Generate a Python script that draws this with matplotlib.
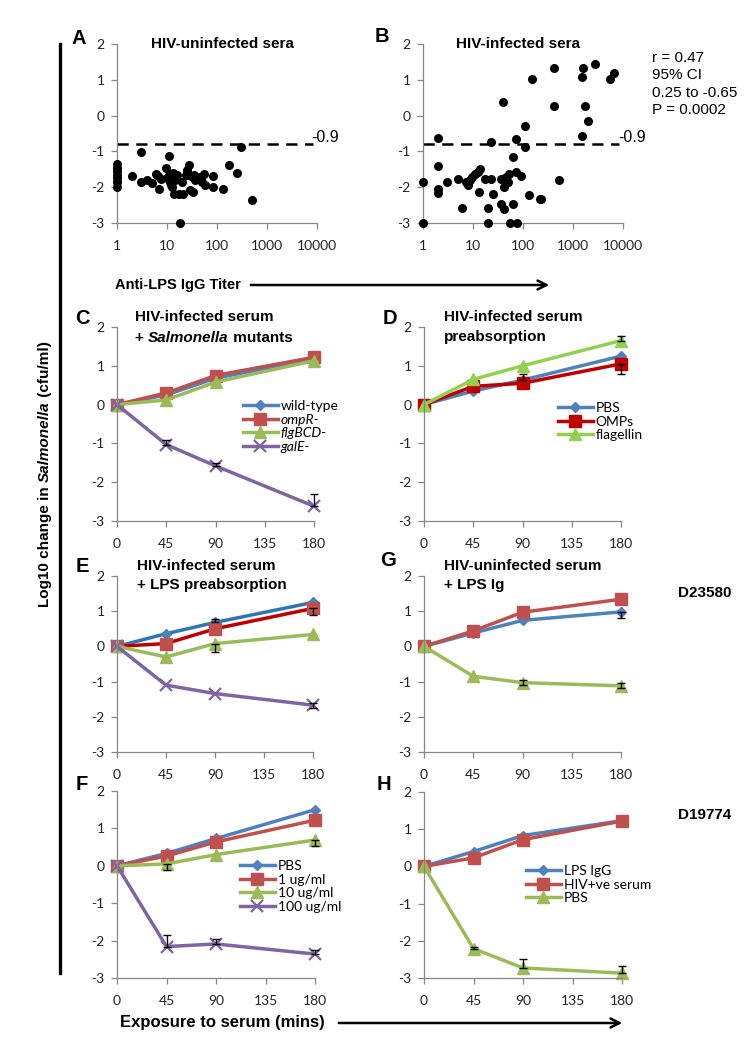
import matplotlib
matplotlib.use("Agg")
import matplotlib.pyplot as plt
from matplotlib.lines import Line2D

W, H = 756, 1048

# ---- data -------------------------------------------------------------
TIME = [0, 45, 90, 180]
TIME_TICKS = [0, 45, 90, 135, 180]
TITER_TICKS = [1, 10, 100, 1000, 10000]
Y_TICKS = [-3, -2, -1, 0, 1, 2]
CUTOFF = -0.8

# A: HIV-uninfected sera
A_titer = [1, 1, 1, 1, 1, 1, 1, 2, 3, 3, 4, 5, 6, 6.5, 7, 7.6, 9.7, 10,
           10.9, 11, 11.7, 12, 12.6, 13, 13.6, 14.7, 15, 15.8, 17, 18, 20,
           21, 24, 25, 27, 29, 30, 33, 35, 37, 40, 43, 47, 50, 56, 58, 82,
           82, 130, 170, 250, 300, 500]
A_change = [-1.35, -1.45, -1.55, -1.65, -1.75, -1.85, -2.0, -1.68, -1.02,
            -1.85, -1.8, -1.88, -1.64, -1.7, -2.04, -1.78, -1.45, -1.75,
            -1.12, -1.66, -1.85, -1.95, -2.0, -1.6, -2.2, -1.8, -1.7, -1.66,
            -2.18, -3.0, -1.85, -2.18, -1.66, -1.52, -1.38, -2.08, -1.7,
            -2.13, -1.66, -1.8, -1.75, -1.71, -1.8, -1.85, -1.62, -1.94,
            -1.68, -2.0, -2.05, -1.38, -1.6, -0.89, -2.37]

# B: HIV-infected sera
B_titer = [1, 1, 2, 2, 2, 2, 3, 5, 6.1, 7.1, 7.9, 8.6, 9.7, 10.8, 12.6, 14,
           13.2, 17, 20, 20, 23, 23, 25, 37, 37, 40, 41, 41, 46, 50, 52, 54,
           63, 63, 73, 76, 73, 92, 111, 111, 132, 150, 215, 232, 415, 415,
           520, 1520, 1520, 1620, 1740, 2000, 2700, 5600, 6500]
B_change = [-1.85, -3.0, -0.62, -1.41, -2.04, -2.15, -1.85, -1.76, -2.57,
            -1.85, -1.93, -1.8, -1.71, -1.64, -1.57, -1.5, -2.13, -1.76,
            -2.57, -3.0, -0.73, -1.78, -2.2, -2.48, -1.76, 0.39, -1.99, -2.6,
            -1.71, -1.85, -1.62, -3.0, -1.15, -2.46, -0.66, -3.0, -1.57,
            -1.68, -0.29, -0.87, -2.22, 1.03, -2.32, -2.34, 1.33, 0.27, -1.8,
            -0.57, 1.07, 1.33, 0.27, -0.14, 1.44, 1.03, 1.19]
B_stats = "r = 0.47\n95% CI\n0.25 to -0.65\nP = 0.0002"

# C: HIV-infected serum + Salmonella mutants
C_labels = ["wild-type", "ompR-", "flgBCD-", "galE-"]
C_wild = [0, 0.25, 0.68, 1.18]
C_ompr = [0, 0.3, 0.75, 1.22]
C_flg = [0, 0.12, 0.58, 1.13]
C_gale = [0, -1.03, -1.58, -2.62]
C_gale_hi = [0, 0.13, 0.08, 0.32]

# D: HIV-infected serum preabsorption
D_labels = ["PBS", "OMPs", "flagellin"]
D_pbs = [0, 0.35, 0.63, 1.25]
D_omps = [0, 0.47, 0.55, 1.05]
D_flag = [0, 0.65, 1.0, 1.65]
D_pbs_hi = [0, 0, 0.17, 0]
D_omps_lo = [0, 0, 0, 0.25]
D_flag_hi = [0, 0, 0, 0.13]

# E: HIV-infected serum + LPS preabsorption
E_blue = [0, 0.36, 0.68, 1.25]
E_red = [0, 0.08, 0.5, 1.08]
E_green = [0, -0.3, 0.08, 0.34]
E_purple = [0, -1.1, -1.34, -1.67]
E_blue_hi = [0, 0, 0.1, 0]
E_red_lo = [0, 0, 0, 0.18]
E_green_lo = [0, 0, 0.23, 0]
E_purple_hi = [0, 0, 0, 0.07]

# G: HIV-uninfected serum + LPS Ig (D23580)
G_blue = [0, 0.38, 0.74, 0.98]
G_red = [0, 0.44, 0.97, 1.34]
G_green = [0, -0.85, -1.03, -1.12]
G_blue_lo = [0, 0, 0, 0.18]
G_green_hi = [0, 0, 0.08, 0.07]

# F: LPS dose (PBS, 1, 10, 100 ug/ml)
F_labels = ["PBS", "1 ug/ml", "10 ug/ml", "100 ug/ml"]
F_pbs = [0, 0.33, 0.73, 1.5]
F_1 = [0, 0.26, 0.64, 1.22]
F_10 = [0, 0.05, 0.3, 0.69]
F_100 = [0, -2.16, -2.09, -2.36]
F_10_lo = [0, 0.15, 0, 0.15]
F_100_hi = [0, 0.3, 0.12, 0.1]

# H: D19774
H_labels = ["LPS IgG", "HIV+ve serum", "PBS"]
H_igg = [0, 0.4, 0.83, 1.23]
H_hiv = [0, 0.23, 0.72, 1.22]
H_pbs = [0, -2.21, -2.73, -2.87]
H_pbs_hi = [0, 0.05, 0.23, 0.2]

# ---- styles -----------------------------------------------------------
BLUE = "#4f81bd"
RED = "#c0504d"
DARKRED = "#c00000"
GREEN = "#9bbb59"
LIGHTGREEN = "#92d050"
PURPLE = "#8064a2"
AXIS_GREY = "#868686"
TICK_FONT = "Lato"
BOLD_FONT = "Liberation Sans"

MARKERS = {"blue": ("D", 5.5), "red": ("s", 8), "green": ("^", 8.5), "purple": ("x", 8)}

fig = plt.figure(figsize=(W / 100, H / 100), dpi=100)


def fx(x):
    return x / W


def fy(y):
    return 1 - y / H


def add_axes(l, t, r, b):
    return fig.add_axes([fx(l), fy(b), (r - l) / W, (b - t) / H])


def style_axes(ax):
    for side in ("top", "right"):
        ax.spines[side].set_visible(False)
    for side in ("left", "bottom"):
        ax.spines[side].set_color(AXIS_GREY)
        ax.spines[side].set_linewidth(0.9)
    ax.tick_params(direction="out", length=4, width=0.9, color=AXIS_GREY,
                   labelsize=10, labelcolor="#222222", pad=5)
    ax.tick_params(axis="x", pad=8)
    ax.set_ylim(-3, 2)
    ax.set_yticks(Y_TICKS)
    ax.set_yticklabels([str(v) for v in Y_TICKS], fontfamily=TICK_FONT)


def series(ax, y, kind, color, mcolor=None, lo=None, hi=None, label=None, z=2):
    marker, ms = MARKERS[kind]
    mcolor = mcolor or color
    ax.plot(TIME, y, color=color, lw=2.5, marker=marker, ms=ms,
            markerfacecolor=mcolor, markeredgecolor=mcolor,
            markeredgewidth=1.6 if kind == "purple" else 1.0,
            label=label, clip_on=False, zorder=z)
    if lo is not None or hi is not None:
        lo = lo or [0] * len(y)
        hi = hi or [0] * len(y)
        idx = [i for i in range(len(y)) if lo[i] or hi[i]]
        ax.errorbar([TIME[i] for i in idx], [y[i] for i in idx],
                    yerr=[[lo[i] for i in idx], [hi[i] for i in idx]],
                    fmt="none", ecolor="black", elinewidth=1.0, capsize=3,
                    capthick=1.0, clip_on=False, zorder=z + 5)


def time_axes(ax):
    style_axes(ax)
    ax.set_xlim(0, 180)
    ax.set_xticks(TIME_TICKS)
    ax.set_xticklabels([str(v) for v in TIME_TICKS], fontfamily=TICK_FONT)


def legend(ax, x, y, italic=()):
    leg = ax.legend(loc="upper left", bbox_to_anchor=(fx(x), fy(y)),
                    bbox_transform=fig.transFigure, frameon=False,
                    borderpad=0, borderaxespad=0, handlelength=2.5,
                    handletextpad=0.2, labelspacing=0.12,
                    prop={"family": TICK_FONT, "size": 10})
    for t in leg.get_texts():
        if t.get_text() in italic:
            t.set_fontstyle("italic")
    return leg


def btext(x, y, s, size=11, **kw):
    return fig.text(fx(x), fy(y), s, fontsize=size, fontweight="bold",
                    fontfamily=BOLD_FONT, **kw)


def chain(prev, s, style="normal", size=11, rotation=0):
    # continue a bold text run right after the previous piece
    if rotation:
        xy, ha, va = (0.5, 1), "center", "bottom"
    else:
        xy, ha, va = (1, 0), "left", "bottom"
    return fig.add_artist(plt.Annotation(
        s, xy=xy, xycoords=prev, ha=ha, va=va, fontsize=size,
        fontweight="bold", fontstyle=style, fontfamily=BOLD_FONT,
        rotation=rotation, annotation_clip=False))


# ---- panels A and B: scatter ------------------------------------------
def scatter_panel(ax, x, y, label_x):
    style_axes(ax)
    ax.set_xscale("log")
    ax.set_xlim(1, 10000)
    ax.set_xticks(TITER_TICKS)
    ax.set_xticklabels([str(v) for v in TITER_TICKS], fontfamily=TICK_FONT)
    ax.minorticks_off()
    ax.scatter(x, y, s=30, color="black", clip_on=False, zorder=3)
    ax.plot([1, 8500], [CUTOFF, CUTOFF], color="black", lw=1.8,
            dashes=(4.5, 3), clip_on=False)
    fig.text(fx(label_x), fy(137), "-0.9", fontsize=11.5,
             fontfamily=BOLD_FONT, va="center")


axA = add_axes(117, 44, 317, 223)
scatter_panel(axA, A_titer, A_change, 311)
axB = add_axes(423, 44, 623, 223)
scatter_panel(axB, B_titer, B_change, 618)
fig.text(fx(652), fy(51), B_stats, fontsize=11, fontfamily=BOLD_FONT,
         va="top", linespacing=1.3)

btext(222, 44, "HIV-uninfected sera", ha="center", va="center")
btext(518, 44, "HIV-infected sera", ha="center", va="center")
btext(115, 285, "Anti-LPS IgG Titer", size=10.5, va="center")
fig.add_artist(plt.Annotation("", xy=(fx(552), fy(285)),
                              xytext=(fx(248), fy(285)),
                              xycoords="figure fraction",
                              arrowprops=dict(arrowstyle="->", lw=1.8,
                                              color="black",
                                              mutation_scale=16)))

# ---- panel C ----------------------------------------------------------
axC = add_axes(117, 327, 314, 521)
time_axes(axC)
series(axC, C_wild, "blue", BLUE, label=C_labels[0])
series(axC, C_ompr, "red", RED, label=C_labels[1])
series(axC, C_flg, "green", GREEN, label=C_labels[2])
series(axC, C_gale, "purple", PURPLE, hi=C_gale_hi, label=C_labels[3])
legend(axC, 243, 400, italic=("ompR-", "flgBCD-", "galE-"))

# ---- panel D ----------------------------------------------------------
axD = add_axes(424, 327, 621, 521)
time_axes(axD)
series(axD, D_pbs, "blue", BLUE, hi=D_pbs_hi, label=D_labels[0])
series(axD, D_omps, "red", DARKRED, lo=D_omps_lo, label=D_labels[1])
series(axD, D_flag, "green", LIGHTGREEN, hi=D_flag_hi, label=D_labels[2])
legend(axD, 558, 402)

# ---- panel E ----------------------------------------------------------
axE = add_axes(117, 576, 313, 752)
time_axes(axE)
series(axE, E_blue, "blue", "#2e75b6", mcolor=BLUE, hi=E_blue_hi)
series(axE, E_red, "red", DARKRED, mcolor=RED, lo=E_red_lo)
series(axE, E_green, "green", GREEN, lo=E_green_lo)
series(axE, E_purple, "purple", PURPLE, hi=E_purple_hi, lo=E_purple_hi)

# ---- panel G ----------------------------------------------------------
axG = add_axes(424, 576, 621, 752)
time_axes(axG)
series(axG, G_blue, "blue", BLUE, lo=G_blue_lo)
series(axG, G_red, "red", RED)
series(axG, G_green, "green", GREEN, hi=G_green_hi, lo=G_green_hi)

# ---- panel F ----------------------------------------------------------
axF = add_axes(117, 791, 315, 978)
time_axes(axF)
series(axF, F_pbs, "blue", BLUE, label=F_labels[0])
series(axF, F_1, "red", RED, label=F_labels[1])
series(axF, F_10, "green", GREEN, lo=F_10_lo, label=F_labels[2])
series(axF, F_100, "purple", PURPLE, hi=F_100_hi, label=F_labels[3])
legend(axF, 240, 860)

# ---- panel H ----------------------------------------------------------
axH = add_axes(424, 792, 622, 978)
time_axes(axH)
series(axH, H_igg, "blue", BLUE, label=H_labels[0])
series(axH, H_hiv, "red", RED, label=H_labels[1])
series(axH, H_pbs, "green", GREEN, hi=H_pbs_hi, label=H_labels[2])
legend(axH, 526, 865)

# ---- titles and labels ------------------------------------------------
btext(135, 317, "HIV-infected serum", va="center")
t = btext(135, 345, "+ ", va="bottom")
t = chain(t, "Salmonella", style="italic")
chain(t, " mutants")
btext(444, 317, "HIV-infected serum", va="center")
btext(444, 337, "preabsorption", va="center")
btext(137, 566, "HIV-infected serum", va="center")
btext(137, 585, "+ LPS preabsorption", va="center")
btext(444, 566, "HIV-uninfected serum", va="center")
btext(444, 585, "+ LPS Ig", va="center")
btext(705, 593, "D23580", ha="center", va="center")
btext(705, 815, "D19774", ha="center", va="center")

for letter, x, y in [("A", 79, 38), ("B", 382, 36), ("C", 82, 318),
                     ("D", 390, 319), ("E", 82, 567), ("G", 388, 561),
                     ("F", 82, 784), ("H", 384, 784)]:
    btext(x, y, letter, size=14.5, ha="center", va="center")

t = btext(45, 607, "Log10 change in ", ha="center", va="bottom", rotation=90)
t = chain(t, "Salmonella", style="italic", rotation=90)
chain(t, " (cfu/ml)", rotation=90)

btext(222, 1022, "Exposure to serum (mins)", size=12, ha="center", va="center")
fig.add_artist(plt.Annotation("", xy=(fx(625), fy(1023)),
                              xytext=(fx(336), fy(1023)),
                              xycoords="figure fraction",
                              arrowprops=dict(arrowstyle="->", lw=1.8,
                                              color="black",
                                              mutation_scale=16)))

fig.add_artist(Line2D([fx(60), fx(60)], [fy(44), fy(973)], color="black",
                      lw=2.4, transform=fig.transFigure))

fig.savefig("out.png", dpi=100)
